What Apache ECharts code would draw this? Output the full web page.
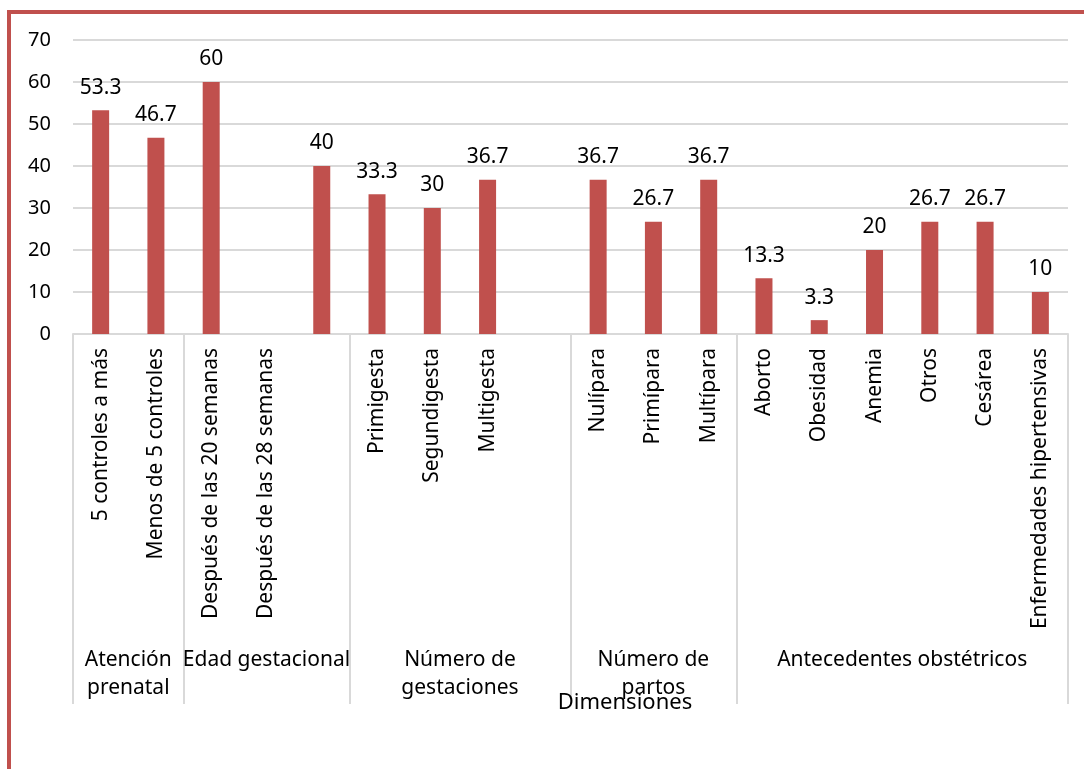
<!DOCTYPE html>
<html>
<head>
<meta charset="utf-8">
<title>Dimensiones</title>
<script src="https://cdn.jsdelivr.net/npm/echarts@6/dist/echarts.min.js"></script>
<style>
  html, body { margin: 0; padding: 0; background: #fff; }
  #wrap { position: relative; width: 1084px; height: 769px; overflow: hidden; }
  #chart { width: 1084px; height: 769px; }
  #frame {
    position: absolute; left: 7px; top: 10px; width: 1200px; height: 900px;
    border-top: 4px solid #c0504d; border-left: 4px solid #c0504d;
    pointer-events: none;
  }
</style>
</head>
<body>
<div id="wrap">
  <div id="chart"></div>
  <div id="frame"></div>
</div>
<script>
// categorias (los huecos vacios son como en la grafica original)
const categories = [
  "5 controles a más", "Menos de 5 controles",
  "Después de las 20 semanas", "Después de las 28 semanas", "",
  "Primigesta", "Segundigesta", "Multigesta", " ",
  "Nulípara", "Primípara", "Multípara",
  "Aborto", "Obesidad", "Anemia", "Otros", "Cesárea", "Enfermedades hipertensivas"
];
const values = [53.3, 46.7, 60, null, 40, 33.3, 30, 36.7, null, 36.7, 26.7, 36.7, 13.3, 3.3, 20, 26.7, 26.7, 10];

// grupos: nombre y posicion (en numero de categorias) donde empieza/termina
const groupNames = ["Atención\nprenatal", "Edad gestacional", "Número de\ngestaciones", "Número de\npartos", "Antecedentes obstétricos"];
const groupBounds = [0, 2, 5, 9, 12, 18];
const yTicks = [0, 10, 20, 30, 40, 50, 60, 70];

const font = "'Noto Sans', 'Open Sans', sans-serif";
const groupCenters = groupNames.map((n, i) => (groupBounds[i] + groupBounds[i + 1]) / 2);

const chart = echarts.init(document.getElementById("chart"));

let option = {
  animation: false,
  textStyle: { fontFamily: font },
  title: {
    text: "Dimensiones",
    left: 620,
    top: 687,
    textAlign: "center",
    textStyle: { fontFamily: font, fontSize: 22, fontWeight: "normal", color: "#000" }
  },
  grid: { left: 73, right: 16, top: 40, bottom: 435 },
  xAxis: [
    {
      type: "category",
      data: categories,
      axisLine: { lineStyle: { color: "#d9d9d9", width: 2 } },
      axisTick: { show: false },
      axisLabel: {
        interval: 0,
        rotate: 90,
        margin: 14,
        fontSize: 21,
        color: "#000",
        fontFamily: font
      }
    },
    {
      // segundo nivel: los grupos
      type: "value",
      position: "bottom",
      min: 0,
      max: 18,
      axisLine: { show: false },
      splitLine: { show: false },
      axisTick: {
        show: true,
        customValues: groupBounds,
        length: 370,
        lineStyle: { color: "#d9d9d9", width: 2 }
      },
      axisLabel: {
        customValues: groupCenters,
        margin: 312,
        fontSize: 21,
        lineHeight: 28,
        color: "#000",
        fontFamily: font,
        formatter: v => {
          const i = groupCenters.indexOf(v);
          return i >= 0 ? groupNames[i] : "";
        }
      }
    }
  ],
  yAxis: {
    type: "value",
    min: yTicks[0],
    max: yTicks[yTicks.length - 1],
    interval: 10,
    axisLine: { show: false },
    axisTick: { show: false },
    axisLabel: { fontSize: 20, color: "#000", margin: 22, fontFamily: font },
    splitLine: { lineStyle: { color: "#d9d9d9", width: 2 } }
  },
  series: [
    {
      type: "bar",
      xAxisIndex: 0,
      data: values,
      barWidth: 17,
      itemStyle: { color: "#c0504d" },
      label: {
        show: true,
        position: "top",
        distance: 12,
        fontSize: 21,
        color: "#000",
        fontFamily: font
      }
    }
  ]
};
chart.setOption(option);
</script>
</body>
</html>
